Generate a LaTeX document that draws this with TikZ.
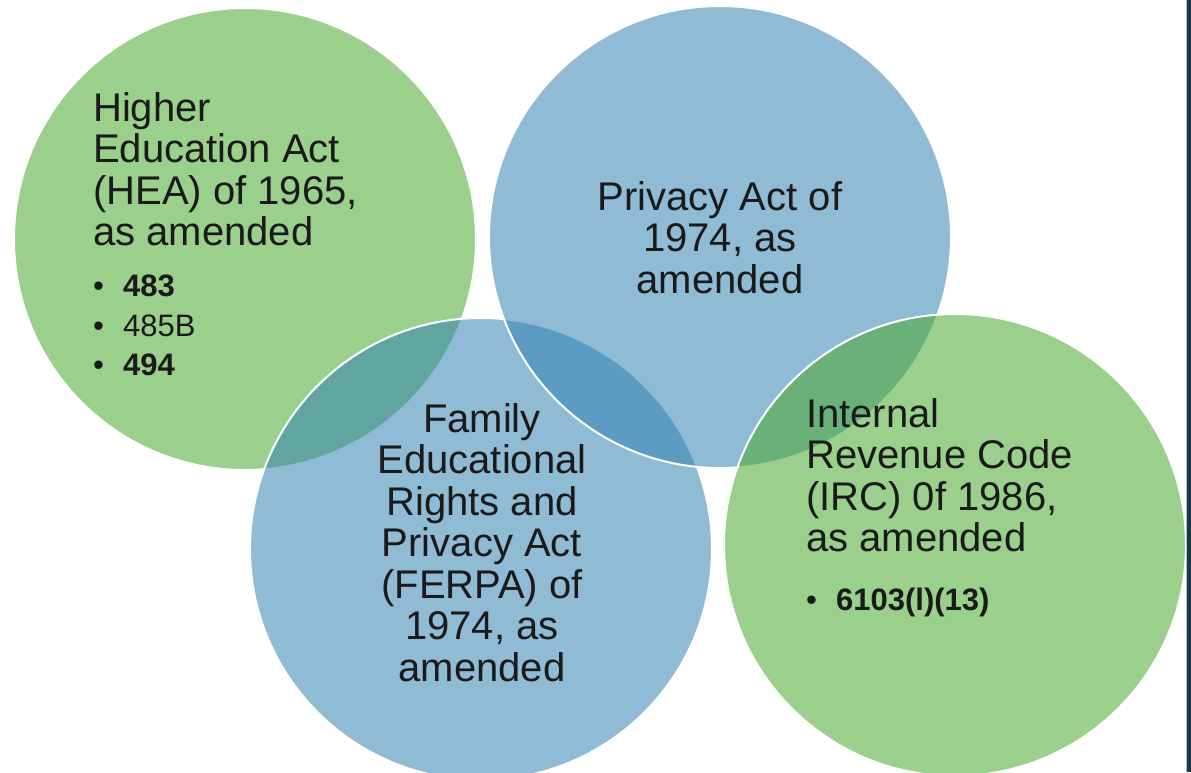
\documentclass[tikz,border=0pt]{standalone}
\usepackage{fontspec}
\setmainfont{Liberation Sans}
\usepackage{xcolor}
\usetikzlibrary{positioning}
\definecolor{lawgreen}{RGB}{73,168,46}
\definecolor{lawblue}{RGB}{51,131,179}
\definecolor{edgedark}{RGB}{18,58,74}
\definecolor{lawtext}{RGB}{26,26,26}
\tikzset{%
  law circle/.style={%
    circle,
    draw=white,
    line width=2pt,
    fill opacity=0.55,
    inner sep=0pt,
    minimum size=462pt
  }
}
\tikzset{%
  law title/.style={%
    inner sep=0pt,
    text=lawtext,
    font=\fontsize{40}{41.5}\selectfont
  }
}
\tikzset{%
  law items/.style={%
    inner sep=0pt,
    align=left,
    text=lawtext,
    font=\fontsize{31}{39.5}\selectfont
  }
}
\newcommand{\lawbullet}{\makebox[30pt][l]{\textbullet}}

\begin{document}
\begin{tikzpicture}[x=1pt,y=-1pt]
  \useasboundingbox (0,0) rectangle (1191,772);
  % circles, back to front
  \node [law circle, fill=lawgreen] (hea) at (245,239) {};
  \node [law circle, fill=lawblue] (ferpa) at (481,549) {};
  \node [law circle, fill=lawblue] (privacy) at (720,237) {};
  \node [law circle, fill=lawgreen] (irc) at (955,545) {};
  % texts
  \node [law title, align=left, anchor=north west] (heaT) at (93,92)
    {Higher\\Education Act\\(HEA) of 1965,\\as amended};
  \node [law items, anchor=north west] (heaL) at (93,275)
    {\lawbullet\textbf{483}\\\lawbullet 485B\\\lawbullet\textbf{494}};
  \node [law title, align=center, anchor=north] (privacyT) at (720,181)
    {Privacy Act of\\1974, as\\amended};
  \node [law title, align=center, anchor=north] (ferpaT) at (482,403)
    {Family\\Educational\\Rights and\\Privacy Act\\(FERPA) of\\1974, as\\amended};
  \node [law title, align=left, anchor=north west] (ircT) at (806,398)
    {Internal\\Revenue Code\\(IRC) 0f 1986,\\as amended};
  \node [law items, anchor=north west] (ircL) at (806,588)
    {\lawbullet\textbf{6103(l)(13)}};
  % frame edge on the right
  \draw [black!25, line width=1pt] (1186,0) -- (1186,772);
  \fill [edgedark] (1187,0) rectangle (1191,772);
\end{tikzpicture}
\end{document}
